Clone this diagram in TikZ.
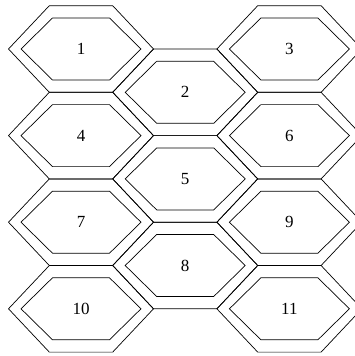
\documentclass[tikz,border=0pt]{standalone}
\usepackage{fontspec}
\setmainfont{Liberation Serif}
\begin{document}
\begin{tikzpicture}[x=1pt,y=-1pt,
  hexline/.style={line width=0.7pt, line join=miter},
  lbl/.style={font=\fontsize{17}{17}\selectfont, inner sep=0pt}]
\useasboundingbox (0,0) rectangle (355,356);
\begin{scope}
\clip (0,0) rectangle (355,356);
\foreach \cx/\cy/\t in {81/49/1, 185.2/92.3/2, 289.4/49/3,
                        81/135.6/4, 185.2/178.9/5, 289.4/135.6/6,
                        81/222.2/7, 185.2/265.5/8, 289.4/222.2/9,
                        81/308.8/10, 289.4/308.8/11} {
  % outer hexagon
  \draw[hexline] (\cx-31.7,\cy-43.3) -- ++(63.4,0) -- ++(40.8,43.3)
     -- ++(-40.8,43.3) -- ++(-63.4,0) -- ++(-40.8,-43.3) -- cycle;
  % inner hexagon
  \draw[hexline] (\cx-28.5,\cy-31) -- ++(57,0) -- ++(31.5,31)
     -- ++(-31.5,31) -- ++(-57,0) -- ++(-31.5,-31) -- cycle;
  \node[lbl] (h\t) at (\cx,\cy) {\t};
}
\end{scope}
\end{tikzpicture}
\end{document}
